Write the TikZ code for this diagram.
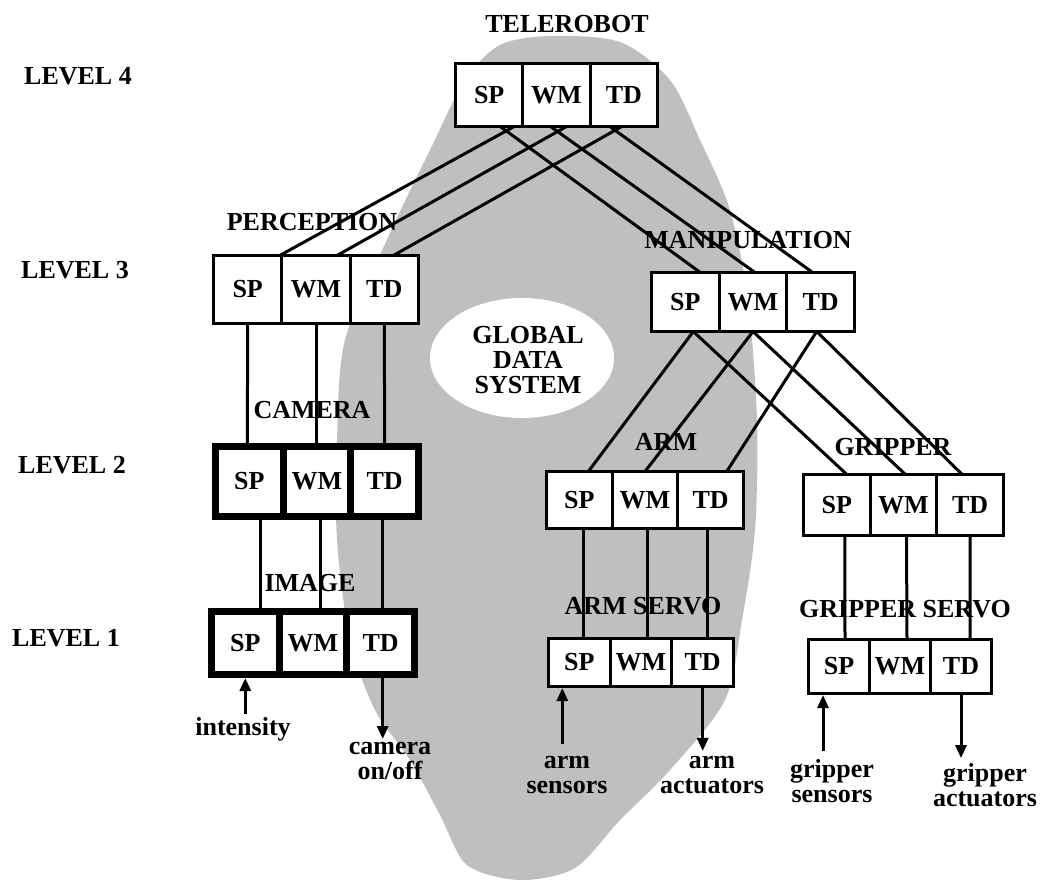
\documentclass[tikz,border=0pt]{standalone}
\usepackage{fontspec}
\setmainfont{Liberation Serif}
\usetikzlibrary{positioning,arrows.meta}

\begin{document}
\begin{tikzpicture}[
        x=1pt, y=-1pt,
        every node/.style={font=\fontsize{26}{25}\selectfont\bfseries, inner sep=0pt, align=center},
        cell/.style 2 args={draw, fill=white, line width=3pt, outer sep=0pt, minimum width=#1, minimum height=#2},
        heavy/.style 2 args={cell={#1}{#2}, line width=7pt},
        link/.style={line width=3pt},
        arrow/.style={line width=3pt, -{Triangle[length=13pt,width=11pt]}}
    ]
    \useasboundingbox (0,0) rectangle (1048,881);

    % Global data system
    \fill[black!25] plot[smooth cycle] coordinates {(550,36) (620,42) (670,80) (700,140) (730,210) (748,300)
        (757,420) (755,530) (742,620) (725,700) (670,770) (620,820) (575,868) (520,880) (467,865)
        (440,815) (410,760) (375,710) (350,640) (337,540) (337,440) (345,340) (390,233) (430,150)
        (465,80) (500,45)};
    \fill[white] (522,358) ellipse [x radius=92pt, y radius=60pt];
    \node (gds) at (528,360) {GLOBAL\\DATA\\SYSTEM};

    % Levels
    \node (lv4) at (78,76) {LEVEL 4};
    \node (lv3) at (75,270) {LEVEL 3};
    \node (lv2) at (72,465) {LEVEL 2};
    \node (lv1) at (66,638) {LEVEL 1};

    % Nodes
    \node[cell={67.3pt}{63pt}] (tel-sp) at (489.2,95) {SP};
    \node[cell={67.3pt}{63pt}, right=0pt of tel-sp] (tel-wm) {WM};
    \node[cell={67.3pt}{63pt}, right=0pt of tel-wm] (tel-td) {TD};

    \node[cell={68.3pt}{68pt}] (per-sp) at (247.7,289.5) {SP};
    \node[cell={68.3pt}{68pt}, right=0pt of per-sp] (per-wm) {WM};
    \node[cell={68.3pt}{68pt}, right=0pt of per-wm] (per-td) {TD};

    \node[cell={67.7pt}{59pt}] (man-sp) at (685.3,302) {SP};
    \node[cell={67.7pt}{59pt}, right=0pt of man-sp] (man-wm) {WM};
    \node[cell={67.7pt}{59pt}, right=0pt of man-wm] (man-td) {TD};

    \node[heavy={67.7pt}{70pt}] (cam-sp) at (249.3,481.5) {SP};
    \node[heavy={67.7pt}{70pt}, right=0pt of cam-sp] (cam-wm) {WM};
    \node[heavy={67.7pt}{70pt}, right=0pt of cam-wm] (cam-td) {TD};

    \node[cell={65.7pt}{57pt}] (arm-sp) at (579.3,500) {SP};
    \node[cell={65.7pt}{57pt}, right=0pt of arm-sp] (arm-wm) {WM};
    \node[cell={65.7pt}{57pt}, right=0pt of arm-wm] (arm-td) {TD};

    \node[cell={66.7pt}{61pt}] (grp-sp) at (836.8,505) {SP};
    \node[cell={66.7pt}{61pt}, right=0pt of grp-sp] (grp-wm) {WM};
    \node[cell={66.7pt}{61pt}, right=0pt of grp-wm] (grp-td) {TD};

    \node[heavy={67.7pt}{63pt}] (img-sp) at (245.3,643) {SP};
    \node[heavy={67.7pt}{63pt}, right=0pt of img-sp] (img-wm) {WM};
    \node[heavy={67.7pt}{63pt}, right=0pt of img-wm] (img-td) {TD};

    \node[cell={61.7pt}{48pt}] (asv-sp) at (579.3,662.5) {SP};
    \node[cell={61.7pt}{48pt}, right=0pt of asv-sp] (asv-wm) {WM};
    \node[cell={61.7pt}{48pt}, right=0pt of asv-wm] (asv-td) {TD};

    \node[cell={61pt}{54pt}] (gsv-sp) at (839,666.5) {SP};
    \node[cell={61pt}{54pt}, right=0pt of gsv-sp] (gsv-wm) {WM};
    \node[cell={61pt}{54pt}, right=0pt of gsv-wm] (gsv-td) {TD};

    % Box titles
    \node (telerobot) at (567,24) {TELEROBOT};
    \node (perception) at (312,222) {PERCEPTION};
    \node (manipulation) at (748,240) {MANIPULATION};
    \node (camera) at (312,410) {CAMERA};
    \node (arm) at (666,442) {ARM};
    \node (gripper) at (893,447) {GRIPPER};
    \node (image) at (310,583) {IMAGE};
    \node (armservo) at (643,606) {ARM SERVO};
    \node (gripservo) at (905,609) {GRIPPER SERVO};

    % Inputs and outputs
    \node (intensity) at (243,729) {intensity};
    \node (camonoff) at (390,761) {camera\\on/off};
    \node (armsens) at (567,775) {arm\\sensors};
    \node (armact) at (712,775) {arm\\actuators};
    \node (gripsens) at (832,781) {gripper\\sensors};
    \node (gripact) at (985,785) {gripper\\actuators};

    % Links
    \draw[link] ([xshift=25pt]tel-sp.south) -- ([xshift=32pt]per-sp.north);
    \draw[link] ([xshift=10pt]tel-wm.south) -- ([xshift=21pt]per-wm.north);
    \draw[link] ([xshift=-2pt]tel-td.south) -- ([xshift=9pt]per-td.north);
    \draw[link] ([xshift=11pt]tel-sp.south) -- ([xshift=15pt]man-sp.north);
    \draw[link] ([xshift=-6pt]tel-wm.south) -- ([xshift=2pt]man-wm.north);
    \draw[link] ([xshift=-14pt]tel-td.south) -- ([xshift=-8pt]man-td.north);

    \draw[link] (per-sp.south) -- ([xshift=-2pt]cam-sp.north);
    \draw[link] (per-wm.south) -- ([xshift=-1pt]cam-wm.north);
    \draw[link] (per-td.south) -- (cam-td.north);
    \draw[link] ([xshift=11pt]cam-sp.south) -- ([xshift=15pt]img-sp.north);
    \draw[link] ([xshift=3pt]cam-wm.south) -- ([xshift=7pt]img-wm.north);
    \draw[link] ([xshift=-2pt]cam-td.south) -- ([xshift=2pt]img-td.north);

    \draw[link] ([xshift=8pt]man-sp.south) -- ([xshift=9pt]arm-sp.north);
    \draw[link] (man-wm.south) -- (arm-wm.north);
    \draw[link] ([xshift=-4pt]man-td.south) -- ([xshift=16pt]arm-td.north);
    \draw[link] ([xshift=8pt]man-sp.south) -- ([xshift=10pt]grp-sp.north);
    \draw[link] (man-wm.south) -- ([xshift=2pt]grp-wm.north);
    \draw[link] ([xshift=-4pt]man-td.south) -- ([xshift=-8pt]grp-td.north);

    \draw[link] ([xshift=4pt]arm-sp.south) -- ([xshift=4pt]asv-sp.north);
    \draw[link] ([xshift=2pt]arm-wm.south) -- ([xshift=6pt]asv-wm.north);
    \draw[link] ([xshift=-3pt]arm-td.south) -- ([xshift=5pt]asv-td.north);
    \draw[link] ([xshift=8pt]grp-sp.south) -- ([xshift=6pt]gsv-sp.north);
    \draw[link] ([xshift=3pt]grp-wm.south) -- ([xshift=7pt]gsv-wm.north);
    \draw[link] (grp-td.south) -- ([xshift=9pt]gsv-td.north);

    % Arrows
    \coordinate (in-img) at ([yshift=-3.5pt]img-sp.south);
    \coordinate (out-img) at ([xshift=2pt, yshift=-3.5pt]img-td.south);
    \coordinate (in-arm) at ([xshift=-17pt, yshift=-1.5pt]asv-sp.south);
    \coordinate (out-arm) at ([yshift=-1.5pt]asv-td.south);
    \coordinate (in-grp) at ([xshift=-16pt, yshift=-1.5pt]gsv-sp.south);
    \coordinate (out-grp) at ([yshift=-1.5pt]gsv-td.south);

    \draw[arrow] ([yshift=3pt]in-img |- intensity.north) -- (in-img);
    \draw[arrow] (out-img) -- ([yshift=3pt]out-img |- camonoff.north);
    \draw[arrow] ([yshift=12pt]in-arm |- armsens.north) -- (in-arm);
    \draw[arrow] (out-arm) -- ([yshift=5pt]out-arm |- armact.north);
    \draw[arrow] ([yshift=8pt]in-grp |- gripsens.north) -- (in-grp);
    \draw[arrow] (out-grp) -- ([yshift=5pt]out-grp |- gripact.north);
\end{tikzpicture}
\end{document}
